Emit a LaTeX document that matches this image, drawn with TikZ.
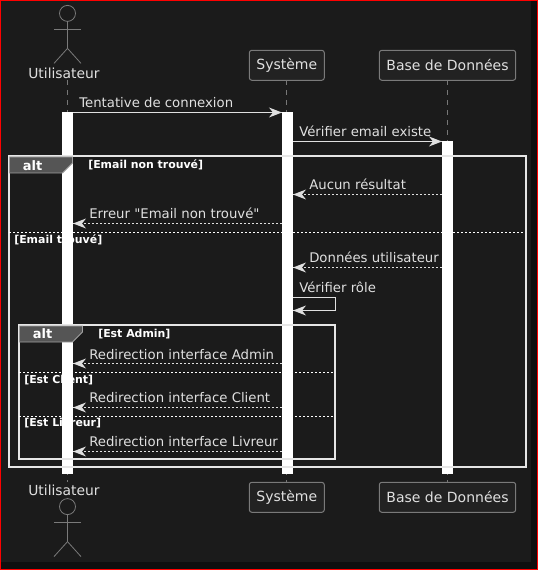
\documentclass[tikz,border=0pt]{standalone}
\usepackage{fontspec}
\setmainfont{DejaVu Sans}
\newfontfamily\plainquotes{DejaVu Sans}
\definecolor{panel}{HTML}{1B1B1B}
\definecolor{outerbg}{HTML}{0F0F0F}
\definecolor{boxfill}{HTML}{222222}
\definecolor{boxline}{HTML}{7A7A7A}
\definecolor{lifeline}{HTML}{777777}
\definecolor{msg}{HTML}{E0E0E0}
\definecolor{frameline}{HTML}{E6E6E6}
\definecolor{tabfill}{HTML}{555555}
\tikzset{
  x=0.75pt,y=-0.75pt,
  lifedash/.style={draw=lifeline,line width=0.75pt,dash pattern=on 3.75pt off 3.75pt},
  partbox/.style={draw=boxline,fill=boxfill,line width=0.75pt,rounded corners=1.9pt,inner sep=0pt,text=msg,font=\fontsize{10.5pt}{12pt}\selectfont,minimum height=22.5pt},
  actorlabel/.style={text=msg,inner sep=0pt,font=\fontsize{10.4pt}{12pt}\selectfont},
  actorline/.style={draw=boxline,line width=0.6pt},
  bar/.style={fill=white,draw=none,inner sep=0pt,minimum width=7.9pt},
  msgtext/.style={text=msg,inner sep=0pt,anchor=base west,font=\fontsize{9.95pt}{12pt}\selectfont},
  guard/.style={text=white,inner sep=0pt,anchor=base west,font=\bfseries\fontsize{8.2pt}{10pt}\selectfont},
  alttext/.style={text=white,inner sep=0pt,font=\bfseries\fontsize{9.75pt}{12pt}\selectfont},
  altframe/.style={draw=frameline,line width=1.5pt},
  alttab/.style={fill=tabfill,draw=frameline!70!black,line width=0.6pt},
  divider/.style={draw=white,line width=0.6pt,dash pattern=on 1.5pt off 1.5pt},
  solidmsg/.style={draw=msg,line width=0.8pt},
  dashmsg/.style={draw=msg,line width=0.8pt,dash pattern=on 1.5pt off 1.5pt},
}
% arrowhead pointing at (#1) in direction #2 (1 right, -1 left)
\newcommand{\headat}[2]{\fill[msg] (#1) -- ++(#2*-13,-5) -- ++(#2*4,5) -- ++(#2*-4,5) -- cycle;}
\newcommand{\drawactor}[1]{%
  \draw[actorline] (#1) circle[radius=6pt];
  \draw[actorline] (#1)++(0,8) -- ++(0,27) -- ++(-13.5,15);
  \draw[actorline] (#1)++(0,35) -- ++(13.5,15);
  \draw[actorline] (#1)++(-13.5,16) -- ++(27,0);
}
\begin{document}
\begin{tikzpicture}
\useasboundingbox (0,0) rectangle (538,570);
\fill[red] (0,0) rectangle (538,570);
\fill[outerbg] (1,1) rectangle (537,569);
\fill[panel] (1,1) rectangle (531,562);

% lifelines
\coordinate (uTop) at (67.5,80);
\coordinate (uBot) at (67.5,482);
\coordinate (sTop) at (286.5,80);
\coordinate (sBot) at (286.5,482);
\coordinate (dTop) at (447.5,80);
\coordinate (dBot) at (447.5,482);
\draw[lifedash] (uTop) -- (uBot);
\draw[lifedash] (sTop) -- (sBot);
\draw[lifedash] (dTop) -- (dBot);

% participants
\node[partbox,minimum width=56.25pt] (sysT) at (286.8,65.3) {Système};
\node[partbox,minimum width=102.3pt] (dbT) at (447.5,65.3) {Base de Données};
\node[partbox,minimum width=56.25pt] (sysB) at (286.8,497.3) {Système};
\node[partbox,minimum width=102.3pt] (dbB) at (447.5,497.3) {Base de Données};
\node[actorlabel] (actT) at (64,73) {Utilisateur};
\node[actorlabel] (actB) at (64,490) {Utilisateur};
\drawactor{67.5,13.4}
\drawactor{67.5,506.6}

% activation bars
\node[bar,minimum height=271.5pt] (barU) at (67.5,293) {};
\node[bar,minimum height=271.5pt] (barS) at (287.5,293) {};
\node[bar,minimum height=249.75pt] (barD) at (447.5,307.5) {};

% frames
\draw[altframe] (8.5,156) rectangle (525.7,466.7);
\draw[altframe] (18.5,325) rectangle (334.7,459.3);
\filldraw[alttab] (9.5,157) -- (72.5,157) -- (72.5,163) -- (62.5,173) -- (9.5,173) -- cycle;
\filldraw[alttab] (19.5,326) -- (82.5,326) -- (82.5,332) -- (72.5,342) -- (19.5,342) -- cycle;
\node[alttext] (alt1) at (32.5,165.5) {alt};
\node[alttext] (alt2) at (42.5,333.5) {alt};
\node[guard] (g1) at (88,169) {[Email non trouvé]};
\node[guard] (g2) at (14,243) {[Email trouvé]};
\node[guard] (g3) at (98,337) {[Est Admin]};
\node[guard] (g4) at (24,383) {[Est Client]};
\node[guard] (g5) at (24,426) {[Est Livreur]};
\coordinate (d1a) at (9,232.5); \coordinate (d1b) at (525,232.5);
\coordinate (d2a) at (19,372.5); \coordinate (d2b) at (334,372.5);
\coordinate (d3a) at (19,416.5); \coordinate (d3b) at (334,416.5);
\draw[divider] (d1a) -- (d1b);
\draw[divider] (d2a) -- (d2b);
\draw[divider] (d3a) -- (d3b);

% messages
\coordinate (m1) at (0,112.5);
\draw[solidmsg] (barU.east |- m1) -- (barS.west |- m1);
\coordinate (h) at (barS.west |- m1); \headat{h}{1}
\node[msgtext] (t1) at (79,107.5) {Tentative de connexion};

\coordinate (m2) at (0,141.5);
\draw[solidmsg] (barS.east |- m2) -- (barD.west |- m2);
\coordinate (h) at (barD.west |- m2); \headat{h}{1}
\node[msgtext] (t2) at (299,136.5) {Vérifier email existe};

\coordinate (m3) at (0,194.5);
\draw[dashmsg] (barD.west |- m3) -- (barS.east |- m3);
\coordinate (h) at (barS.east |- m3); \headat{h}{-1}
\node[msgtext] (t3) at (309,189.5) {Aucun résultat};

\coordinate (m4) at (0,223.5);
\draw[dashmsg] (barS.west |- m4) -- (barU.east |- m4);
\coordinate (h) at (barU.east |- m4); \headat{h}{-1}
\node[msgtext] (t4) at (89,219) {\plainquotes Erreur "Email non trouvé"};

\coordinate (m5) at (0,267.5);
\draw[dashmsg] (barD.west |- m5) -- (barS.east |- m5);
\coordinate (h) at (barS.east |- m5); \headat{h}{-1}
\node[msgtext] (t5) at (309,262.5) {Données utilisateur};

\coordinate (m6a) at (0,297.5);
\coordinate (m6b) at (0,310.5);
\draw[solidmsg] (barS.east |- m6a) -- ++(42,0) |- (barS.east |- m6b);
\coordinate (h) at (barS.east |- m6b); \headat{h}{-1}
\node[msgtext] (t6) at (299,292) {Vérifier rôle};

\coordinate (m7) at (0,363.5);
\draw[dashmsg] (barS.west |- m7) -- (barU.east |- m7);
\coordinate (h) at (barU.east |- m7); \headat{h}{-1}
\node[msgtext] (t7) at (89,359) {Redirection interface Admin};

\coordinate (m8) at (0,407.5);
\draw[dashmsg] (barS.west |- m8) -- (barU.east |- m8);
\coordinate (h) at (barU.east |- m8); \headat{h}{-1}
\node[msgtext] (t8) at (89,402.5) {Redirection interface Client};

\coordinate (m9) at (0,451.5);
\draw[dashmsg] (barS.west |- m9) -- (barU.east |- m9);
\coordinate (h) at (barU.east |- m9); \headat{h}{-1}
\node[msgtext] (t9) at (89,446.5) {Redirection interface Livreur};
\end{tikzpicture}
\end{document}
